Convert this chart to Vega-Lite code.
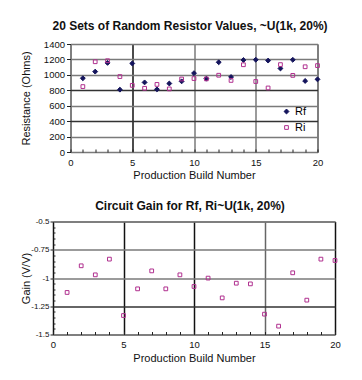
{
  "$schema": "https://vega.github.io/schema/vega-lite/v6.json",
  "background": "white",
  "padding": {"left": 19, "top": 19, "right": 0, "bottom": 0},
  "spacing": 69.5,
  "bounds": "flush",
  "center": true,
  "resolve": {"scale": {"x": "independent", "y": "independent"}, "axis": {"x": "independent", "y": "independent"}},
  "config": {
    "font": "Liberation Sans",
    "view": {"stroke": "#222", "strokeWidth": 1},
    "axis": {"domain": false, "labelColor": "#111", "titleColor": "#111", "labelFontSize": 9.5, "titleFontSize": 11, "titleFontWeight": "normal", "tickColor": "#222", "gridWidth": 1.5, "labelAngle": 0},
    "title": {"fontWeight": "bold", "color": "#111", "fontSize": 12, "dx": -4}
  },
  "datasets": {
    "res": [
      {"build": 1, "series": "Rf", "ohms": 956}, {"build": 2, "series": "Rf", "ohms": 1042}, {"build": 3, "series": "Rf", "ohms": 1155},
      {"build": 4, "series": "Rf", "ohms": 808}, {"build": 5, "series": "Rf", "ohms": 1148}, {"build": 6, "series": "Rf", "ohms": 902},
      {"build": 7, "series": "Rf", "ohms": 812}, {"build": 8, "series": "Rf", "ohms": 888}, {"build": 9, "series": "Rf", "ohms": 916},
      {"build": 10, "series": "Rf", "ohms": 1022}, {"build": 11, "series": "Rf", "ohms": 950}, {"build": 12, "series": "Rf", "ohms": 1163},
      {"build": 13, "series": "Rf", "ohms": 972}, {"build": 14, "series": "Rf", "ohms": 1192}, {"build": 15, "series": "Rf", "ohms": 1196},
      {"build": 16, "series": "Rf", "ohms": 1185}, {"build": 17, "series": "Rf", "ohms": 1083}, {"build": 18, "series": "Rf", "ohms": 1195},
      {"build": 19, "series": "Rf", "ohms": 921}, {"build": 20, "series": "Rf", "ohms": 942},
      {"build": 1, "series": "Ri", "ohms": 848}, {"build": 2, "series": "Ri", "ohms": 1170}, {"build": 3, "series": "Ri", "ohms": 1183},
      {"build": 4, "series": "Ri", "ohms": 978}, {"build": 5, "series": "Ri", "ohms": 864}, {"build": 6, "series": "Ri", "ohms": 826},
      {"build": 7, "series": "Ri", "ohms": 876}, {"build": 8, "series": "Ri", "ohms": 818}, {"build": 9, "series": "Ri", "ohms": 946},
      {"build": 10, "series": "Ri", "ohms": 952}, {"build": 11, "series": "Ri", "ohms": 948}, {"build": 12, "series": "Ri", "ohms": 995},
      {"build": 13, "series": "Ri", "ohms": 928}, {"build": 14, "series": "Ri", "ohms": 1131}, {"build": 15, "series": "Ri", "ohms": 914},
      {"build": 16, "series": "Ri", "ohms": 830}, {"build": 17, "series": "Ri", "ohms": 1133}, {"build": 18, "series": "Ri", "ohms": 993},
      {"build": 19, "series": "Ri", "ohms": 1105}, {"build": 20, "series": "Ri", "ohms": 1120}
    ],
    "gain": [
      {"build": 1, "gain": -1.128}, {"build": 2, "gain": -0.892}, {"build": 3, "gain": -0.972}, {"build": 4, "gain": -0.833},
      {"build": 5, "gain": -1.332}, {"build": 6, "gain": -1.096}, {"build": 7, "gain": -0.937}, {"build": 8, "gain": -1.096},
      {"build": 9, "gain": -0.972}, {"build": 10, "gain": -1.075}, {"build": 11, "gain": -1.001}, {"build": 12, "gain": -1.176},
      {"build": 13, "gain": -1.046}, {"build": 14, "gain": -1.052}, {"build": 15, "gain": -1.32}, {"build": 16, "gain": -1.426},
      {"build": 17, "gain": -0.954}, {"build": 18, "gain": -1.196}, {"build": 19, "gain": -0.833}, {"build": 20, "gain": -0.845}
    ]
  },
  "vconcat": [
    {
      "width": 247,
      "height": 108,
      "title": {"text": "20 Sets of Random Resistor Values, ~U(1k, 20%)", "offset": 6},
      "data": {"name": "res"},
      "mark": {"type": "point", "filled": true, "strokeWidth": 1, "opacity": 1},
      "encoding": {
        "x": {
          "field": "build", "type": "quantitative",
          "scale": {"domain": [0, 20], "nice": false},
          "axis": {
            "values": [0,1,2,3,4,5,6,7,8,9,10,11,12,13,14,15,16,17,18,19,20],
            "labelExpr": "datum.value % 5 == 0 ? datum.label : ''",
            "labelFlush": false,
            "tickSize": -3, "labelPadding": 8,
            "title": "Production Build Number", "titlePadding": 3,
            "gridColor": {"condition": {"test": "datum.value == 5", "value": "#111"}, "value": "#7a7a7a"},
            "gridOpacity": {"condition": {"test": "datum.value % 5 == 0", "value": 1}, "value": 0}
          }
        },
        "y": {
          "field": "ohms", "type": "quantitative",
          "scale": {"domain": [0, 1400], "nice": false},
          "axis": {
            "values": [0, 200, 400, 600, 800, 1000, 1200, 1400],
            "format": "d",
            "tickSize": 4, "labelPadding": 2,
            "title": "Resistance (Ohms)", "titlePadding": 12,
            "gridColor": {"condition": {"test": "datum.value == 400 || datum.value == 800", "value": "#333"}, "value": "#7a7a7a"}
          }
        },
        "shape": {
          "field": "series", "type": "nominal",
          "scale": {"domain": ["Rf", "Ri"], "range": ["diamond", "square"]},
          "legend": {"orient": "none", "legendX": 228, "legendY": 62, "title": null, "labelFontSize": 11, "rowPadding": 4, "labelOffset": 3, "symbolStrokeWidth": 1}
        },
        "fill": {
          "field": "series", "type": "nominal",
          "scale": {"domain": ["Rf", "Ri"], "range": ["#14145c", "transparent"]}
        },
        "stroke": {
          "field": "series", "type": "nominal",
          "scale": {"domain": ["Rf", "Ri"], "range": ["#14145c", "#b0308f"]}
        },
        "size": {
          "field": "series", "type": "nominal",
          "scale": {"domain": ["Rf", "Ri"], "range": [24, 14]}
        }
      }
    },
    {
      "width": 282,
      "height": 113,
      "title": {"text": "Circuit Gain for Rf, Ri~U(1k, 20%)", "offset": 5},
      "data": {"name": "gain"},
      "mark": {"type": "point", "shape": "square", "size": 14, "strokeWidth": 1, "color": "#b0308f", "opacity": 1},
      "encoding": {
        "x": {
          "field": "build", "type": "quantitative",
          "scale": {"domain": [0, 20], "nice": false},
          "axis": {
            "values": [0,1,2,3,4,5,6,7,8,9,10,11,12,13,14,15,16,17,18,19,20],
            "labelExpr": "datum.value % 5 == 0 ? datum.label : ''",
            "labelFlush": false,
            "tickSize": -3, "labelPadding": 8,
            "title": "Production Build Number", "titlePadding": 3,
            "gridColor": {"condition": {"test": "datum.value == 15", "value": "#666"}, "value": "#111"},
            "gridOpacity": {"condition": {"test": "datum.value % 5 == 0", "value": 1}, "value": 0}
          }
        },
        "y": {
          "field": "gain", "type": "quantitative",
          "scale": {"domain": [-1.5, -0.5], "nice": false},
          "axis": {
            "values": [-1.5,-1.45,-1.4,-1.35,-1.3,-1.25,-1.2,-1.15,-1.1,-1.05,-1,-0.95,-0.9,-0.85,-0.8,-0.75,-0.7,-0.65,-0.6,-0.55,-0.5],
            "labelExpr": "abs(round(datum.value*100)) % 25 == 0 ? '' + datum.value : ''",
            "tickSize": {"condition": {"test": "abs(round(datum.value*100)) % 25 == 0", "value": 3}, "value": -2},
            "labelPadding": 1, "labelFontSize": 8,
            "title": "Gain (V/V)", "titlePadding": -0.5,
            "gridColor": {"condition": {"test": "datum.value == -1.25", "value": "#333"}, "value": "#7a7a7a"},
            "gridOpacity": {"condition": {"test": "abs(round(datum.value*100)) % 25 == 0", "value": 1}, "value": 0}
          }
        }
      }
    }
  ]
}
